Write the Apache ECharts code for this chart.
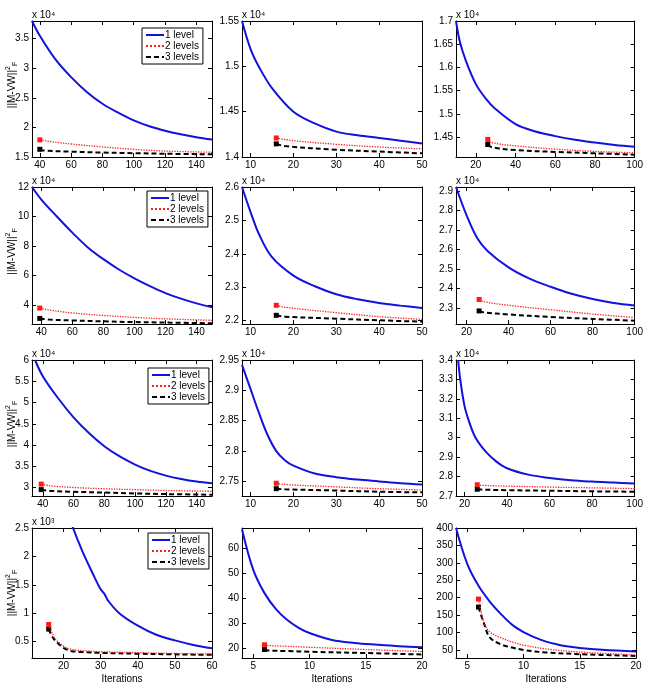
<!DOCTYPE html>
<html>
<head>
<meta charset="utf-8">
<script src="https://cdn.jsdelivr.net/npm/echarts@6/dist/echarts.min.js"></script>
<style>
  html, body { margin: 0; padding: 0; background: #fff; }
  #chart { width: 646px; height: 685px; }
</style>
</head>
<body>
<div id="chart"></div>
<script>
// ---- data (y values in units of the axis multiplier) ----
// row 1
const p00_xRange = [35, 150], p00_yRange = [1.5, 3.8];
const p00_xTicks = [40, 60, 80, 100, 120, 140], p00_yTicks = [1.5, 2, 2.5, 3, 3.5];
const p00_one = [[35, 3.8], [40, 3.55], [50, 3.15], [60, 2.85], [70, 2.6], [80, 2.4], [90, 2.25], [100, 2.12], [110, 2.02], [120, 1.945], [130, 1.885], [140, 1.835], [150, 1.795]];
const p00_two = [[40, 1.79], [50, 1.75], [60, 1.72], [80, 1.67], [100, 1.63], [120, 1.6], [150, 1.58]];
const p00_three = [[40, 1.63], [42, 1.61], [60, 1.59], [80, 1.575], [100, 1.565], [120, 1.555], [150, 1.545]];

const p01_xRange = [8, 50], p01_yRange = [1.4, 1.55];
const p01_xTicks = [10, 20, 30, 40, 50], p01_yTicks = [1.4, 1.45, 1.5, 1.55];
const p01_one = [[8, 1.55], [10, 1.519], [12, 1.499], [15, 1.476], [20, 1.45], [25, 1.437], [30, 1.428], [35, 1.424], [40, 1.421], [45, 1.418], [50, 1.415]];
const p01_two = [[16, 1.421], [20, 1.418], [30, 1.414], [40, 1.411], [50, 1.409]];
const p01_three = [[16, 1.4145], [18, 1.412], [30, 1.408], [40, 1.406], [50, 1.404]];

const p02_xRange = [10, 100], p02_yRange = [1.407, 1.7];
const p02_xTicks = [20, 40, 60, 80, 100], p02_yTicks = [1.45, 1.5, 1.55, 1.6, 1.65, 1.7];
const p02_one = [[10, 1.7], [12, 1.654], [15, 1.614], [20, 1.564], [25, 1.533], [30, 1.51], [40, 1.478], [50, 1.462], [60, 1.452], [70, 1.444], [80, 1.438], [90, 1.433], [100, 1.429]];
const p02_two = [[26, 1.445], [28, 1.438], [40, 1.431], [60, 1.424], [80, 1.419], [100, 1.416]];
const p02_three = [[26, 1.434], [28, 1.428], [40, 1.422], [60, 1.418], [80, 1.415], [100, 1.412]];

// row 2
const p10_xRange = [34, 150], p10_yRange = [2.7, 12];
const p10_xTicks = [40, 60, 80, 100, 120, 140], p10_yTicks = [4, 6, 8, 10, 12];
const p10_one = [[34, 12], [40, 11.15], [50, 10], [60, 8.9], [70, 7.9], [80, 7.1], [90, 6.4], [100, 5.8], [110, 5.27], [120, 4.8], [130, 4.42], [140, 4.1], [150, 3.84]];
const p10_two = [[39, 3.78], [45, 3.65], [60, 3.45], [80, 3.28], [100, 3.15], [120, 3.05], [150, 2.95]];
const p10_three = [[39, 3.08], [45, 3.0], [60, 2.94], [80, 2.88], [100, 2.83], [120, 2.8], [150, 2.75]];

const p11_xRange = [8, 50], p11_yRange = [2.19, 2.6];
const p11_xTicks = [10, 20, 30, 40, 50], p11_yTicks = [2.2, 2.3, 2.4, 2.5, 2.6];
const p11_one = [[8, 2.6], [10, 2.525], [12, 2.458], [15, 2.39], [20, 2.335], [25, 2.303], [30, 2.279], [35, 2.264], [40, 2.253], [45, 2.245], [50, 2.238]];
const p11_two = [[16, 2.246], [18, 2.24], [30, 2.224], [40, 2.212], [50, 2.204]];
const p11_three = [[16, 2.216], [18, 2.212], [30, 2.206], [40, 2.201], [50, 2.197]];

const p12_xRange = [15, 100], p12_yRange = [2.217, 2.92];
const p12_xTicks = [20, 40, 60, 80, 100], p12_yTicks = [2.3, 2.4, 2.5, 2.6, 2.7, 2.8, 2.9];
const p12_one = [[15, 2.92], [20, 2.776], [25, 2.66], [30, 2.592], [40, 2.508], [50, 2.45], [60, 2.408], [70, 2.372], [80, 2.345], [90, 2.325], [100, 2.312]];
const p12_two = [[26, 2.343], [28, 2.332], [40, 2.313], [60, 2.29], [80, 2.268], [100, 2.25]];
const p12_three = [[26, 2.284], [28, 2.277], [40, 2.266], [60, 2.253], [80, 2.243], [100, 2.234]];

// row 3
const p20_xRange = [33, 150], p20_yRange = [2.8, 6];
const p20_xTicks = [40, 60, 80, 100, 120, 140], p20_yTicks = [3, 3.5, 4, 4.5, 5, 5.5, 6];
const p20_one = [[35, 6], [40, 5.62], [50, 5.1], [60, 4.65], [70, 4.28], [80, 3.97], [90, 3.73], [100, 3.54], [110, 3.39], [120, 3.28], [130, 3.2], [140, 3.14], [150, 3.1]];
const p20_two = [[39, 3.08], [45, 3.04], [60, 3.0], [80, 2.97], [100, 2.95], [120, 2.93], [150, 2.91]];
const p20_three = [[39, 2.95], [45, 2.92], [60, 2.9], [80, 2.88], [100, 2.86], [120, 2.845], [150, 2.83]];

const p21_xRange = [8, 50], p21_yRange = [2.726, 2.95];
const p21_xTicks = [10, 20, 30, 40, 50], p21_yTicks = [2.75, 2.8, 2.85, 2.9, 2.95];
const p21_one = [[8, 2.942], [10, 2.902], [12, 2.862], [14, 2.826], [16, 2.8], [18, 2.785], [20, 2.776], [25, 2.763], [30, 2.757], [35, 2.753], [40, 2.75], [45, 2.747], [50, 2.745]];
const p21_two = [[16, 2.747], [18, 2.745], [30, 2.741], [40, 2.738], [50, 2.736]];
const p21_three = [[16, 2.738], [18, 2.737], [30, 2.735], [40, 2.733], [50, 2.732]];

const p22_xRange = [16, 100], p22_yRange = [2.7, 3.4];
const p22_xTicks = [20, 40, 60, 80, 100], p22_yTicks = [2.7, 2.8, 2.9, 3, 3.1, 3.2, 3.3, 3.4];
const p22_one = [[17, 3.4], [18, 3.3], [20, 3.164], [22, 3.088], [25, 3.004], [30, 2.928], [35, 2.877], [40, 2.843], [50, 2.81], [60, 2.793], [70, 2.781], [80, 2.774], [90, 2.769], [100, 2.764]];
const p22_two = [[26, 2.758], [28, 2.755], [40, 2.751], [60, 2.746], [80, 2.742], [100, 2.738]];
const p22_three = [[26, 2.735], [28, 2.733], [40, 2.73], [60, 2.727], [80, 2.724], [100, 2.722]];

// row 4
const p30_xRange = [11.5, 60], p30_yRange = [0.21, 2.5];
const p30_xTicks = [20, 30, 40, 50, 60], p30_yTicks = [0.5, 1, 1.5, 2, 2.5];
const p30_one = [[20, 3.0], [22, 2.6], [25, 2.1], [28, 1.68], [30, 1.42], [31, 1.34], [32, 1.22], [35, 1.0], [40, 0.78], [45, 0.62], [50, 0.52], [55, 0.44], [60, 0.38]];
const p30_two = [[16, 0.8], [17, 0.64], [18, 0.53], [20, 0.42], [22, 0.365], [25, 0.34], [30, 0.32], [40, 0.305], [50, 0.29], [60, 0.28]];
const p30_three = [[16, 0.72], [17, 0.58], [18, 0.5], [20, 0.39], [22, 0.335], [25, 0.315], [30, 0.3], [40, 0.285], [50, 0.275], [60, 0.265]];

const p31_xRange = [4, 20], p31_yRange = [15.9, 68];
const p31_xTicks = [5, 10, 15, 20], p31_yTicks = [20, 30, 40, 50, 60];
const p31_one = [[4, 67.5], [5, 51.2], [6, 41.9], [7, 35.6], [8, 31.2], [9, 28.1], [10, 25.9], [12, 23.1], [14, 21.9], [16, 21.2], [18, 20.6], [20, 20.2]];
const p31_two = [[6, 21.2], [6.3, 20.9], [8, 20.6], [10, 20.2], [15, 19.3], [20, 18.5]];
const p31_three = [[6, 19.3], [6.3, 18.9], [8, 18.7], [10, 18.4], [15, 17.9], [20, 17.3]];

const p32_xRange = [4, 20], p32_yRange = [27, 400];
const p32_xTicks = [5, 10, 15, 20], p32_yTicks = [50, 100, 150, 200, 250, 300, 350, 400];
const p32_one = [[4, 400], [5, 297], [6, 234], [7, 189], [8, 153], [9, 122], [10, 101], [11, 86], [12, 74], [13, 66], [14, 60], [15, 56], [17, 51], [20, 46]];
const p32_two = [[6, 196], [6.5, 128], [7, 102], [8, 85], [9, 73], [10, 64], [12, 53], [15, 44], [20, 36]];
const p32_three = [[6, 173], [6.5, 125], [7, 86], [8, 66], [9, 57], [10, 50], [12, 43], [15, 38], [20, 33]];

const multipliers = ['x 10⁴', 'x 10⁴', 'x 10⁴', 'x 10⁴', 'x 10⁴', 'x 10⁴', 'x 10⁴', 'x 10⁴', 'x 10⁴', 'x 10³', '', ''];
const seriesNames = ['1 level', '2 levels', '3 levels'];

const panels = [
  [p00_xRange, p00_yRange, p00_xTicks, p00_yTicks, p00_one, p00_two, p00_three],
  [p01_xRange, p01_yRange, p01_xTicks, p01_yTicks, p01_one, p01_two, p01_three],
  [p02_xRange, p02_yRange, p02_xTicks, p02_yTicks, p02_one, p02_two, p02_three],
  [p10_xRange, p10_yRange, p10_xTicks, p10_yTicks, p10_one, p10_two, p10_three],
  [p11_xRange, p11_yRange, p11_xTicks, p11_yTicks, p11_one, p11_two, p11_three],
  [p12_xRange, p12_yRange, p12_xTicks, p12_yTicks, p12_one, p12_two, p12_three],
  [p20_xRange, p20_yRange, p20_xTicks, p20_yTicks, p20_one, p20_two, p20_three],
  [p21_xRange, p21_yRange, p21_xTicks, p21_yTicks, p21_one, p21_two, p21_three],
  [p22_xRange, p22_yRange, p22_xTicks, p22_yTicks, p22_one, p22_two, p22_three],
  [p30_xRange, p30_yRange, p30_xTicks, p30_yTicks, p30_one, p30_two, p30_three],
  [p31_xRange, p31_yRange, p31_xTicks, p31_yTicks, p31_one, p31_two, p31_three],
  [p32_xRange, p32_yRange, p32_xTicks, p32_yTicks, p32_one, p32_two, p32_three]
];

// ---- layout / style ----
const font = "'Liberation Sans', Arial, sans-serif";
const colLeft = [32, 242, 456];
const colWidth = 180;
const rowTop = [21, 187, 360, 528];
const rowHeight = [136, 137, 136, 138];
const legendPos = [[142, 28], [147, 191], [148, 368], [148, 533]];

const lineStyles = [
  { color: '#1212dc', width: 2, type: 'solid' },
  { color: '#ff1a1a', width: 1.3, type: 'dotted' },
  { color: '#000000', width: 2, type: [5, 3] }
];

const fmt = v => String(+v.toFixed(3));

const chart = echarts.init(document.getElementById('chart'));
const grid = [], xAxis = [], yAxis = [], series = [], legend = [], graphic = [];

panels.forEach(([xr, yr, xt, yt, one, two, three], i) => {
  const r = Math.floor(i / 3), c = i % 3;
  grid.push({ left: colLeft[c], top: rowTop[r], width: colWidth, height: rowHeight[r] });

  const line = { onZero: false, lineStyle: { color: '#000', width: 1 } };
  const tick = vals => ({ inside: true, length: 4, customValues: vals, lineStyle: { color: '#000', width: 1 } });

  xAxis.push({
    gridIndex: i, type: 'value', position: 'bottom', min: xr[0], max: xr[1],
    axisLine: line, axisTick: tick(xt), splitLine: { show: false },
    axisLabel: { customValues: xt, formatter: fmt, margin: 3, fontSize: 10, color: '#000', fontFamily: font },
    name: r === 3 ? 'Iterations' : '', nameLocation: 'middle', nameGap: 16,
    nameTextStyle: { fontSize: 10, color: '#000', fontFamily: font }
  });
  xAxis.push({
    gridIndex: i, type: 'value', position: 'top', min: xr[0], max: xr[1],
    axisLine: line, axisTick: tick(xt), axisLabel: { show: false }, splitLine: { show: false }
  });
  yAxis.push({
    gridIndex: i, type: 'value', position: 'left', min: yr[0], max: yr[1],
    axisLine: line, axisTick: tick(yt), splitLine: { show: false },
    axisLabel: { customValues: yt, formatter: fmt, margin: 3, fontSize: 10, color: '#000', fontFamily: font }
  });
  yAxis.push({
    gridIndex: i, type: 'value', position: 'right', min: yr[0], max: yr[1],
    axisLine: line, axisTick: tick(yt), axisLabel: { show: false }, splitLine: { show: false }
  });

  [one, two, three].forEach((pts, k) => {
    series.push({
      type: 'line', name: seriesNames[k], xAxisIndex: 2 * i, yAxisIndex: 2 * i,
      data: pts.map((p, j) => (k > 0 && j === 0) ? { value: p, symbol: 'rect', symbolSize: 5 } : p),
      symbol: 'none', smooth: 0.35, clip: true, silent: true,
      lineStyle: lineStyles[k], itemStyle: { color: lineStyles[k].color },
      z: 3 - k
    });
  });

  if (multipliers[i]) {
    graphic.push({
      type: 'text', x: colLeft[c], y: rowTop[r] - 1,
      style: { text: multipliers[i], fontSize: 10, fontFamily: font, fill: '#000', align: 'left', verticalAlign: 'bottom' }
    });
  }

  if (c === 0) {
    legend.push({
      data: seriesNames, orient: 'vertical', left: legendPos[r][0], top: legendPos[r][1],
      itemWidth: 18, itemHeight: 10, itemGap: 1, padding: [2, 4, 2, 3],
      borderColor: '#000', borderWidth: 1, backgroundColor: '#fff', selectedMode: false,
      itemStyle: { opacity: 0 },
      textStyle: { fontSize: 10, color: '#000', fontFamily: font, padding: [0, 0, 0, -4] }
    });
    graphic.push({
      type: 'text', x: 12, y: rowTop[r] + rowHeight[r] / 2 - 4, rotation: Math.PI / 2,
      style: {
        text: '{m|||M-VW||}{p|2}{b|F}', align: 'center', verticalAlign: 'middle', fill: '#000',
        rich: {
          m: { fontSize: 10, fontFamily: font, lineHeight: 14 },
          p: { fontSize: 7, fontFamily: font, verticalAlign: 'top', lineHeight: 8 },
          b: { fontSize: 7, fontFamily: font, verticalAlign: 'bottom', lineHeight: 8 }
        }
      }
    });
  }
});

chart.setOption({
  animation: false,
  grid, xAxis, yAxis, series, legend, graphic
});
</script>
</body>
</html>
